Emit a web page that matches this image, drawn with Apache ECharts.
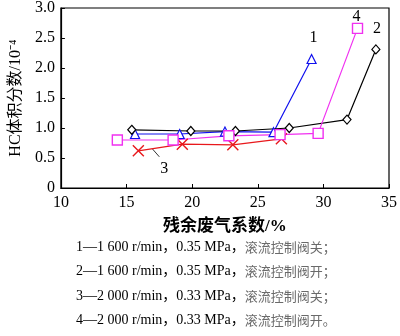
<!DOCTYPE html>
<html>
<head>
<meta charset="utf-8">
<script src="https://cdn.jsdelivr.net/npm/echarts@6/dist/echarts.min.js"></script>
<style>
  html, body { margin: 0; padding: 0; background: #fff; }
  #chart { width: 400px; height: 336px; }
</style>
</head>
<body>
<div id="chart"></div>
<script>
// Residual gas fraction (%) vs HC volume fraction (10^-4)
const xTicks = [10, 15, 20, 25, 30, 35];
const yTicks = [0, 0.5, 1.0, 1.5, 2.0, 2.5, 3.0];

const s1x = [15.65, 19.05, 22.5, 26.2, 29.1];
const s1y = [0.90, 0.90, 0.94, 0.93, 2.15];

const s2x = [15.4, 19.9, 23.3, 27.4, 31.8, 34.0];
const s2y = [0.97, 0.95, 0.95, 1.00, 1.14, 2.31];

const s3x = [15.9, 19.25, 23.1, 26.8];
const s3y = [0.62, 0.73, 0.72, 0.82];

const s4x = [14.3, 18.55, 22.8, 26.7, 29.6, 32.6];
const s4y = [0.80, 0.80, 0.87, 0.89, 0.91, 2.66];

const curveNames = ['1', '2', '3', '4'];
const legendLines = [
  ['1—1 600 r/min，0.35 MPa，', '滚流控制阀关；'],
  ['2—1 600 r/min，0.35 MPa，', '滚流控制阀开；'],
  ['3—2 000 r/min，0.33 MPa，', '滚流控制阀关；'],
  ['4—2 000 r/min，0.33 MPa，', '滚流控制阀开。']
];

const serif = '"Liberation Serif", "Times New Roman", "Noto Sans CJK SC", serif';
const pairs = (xs, ys) => xs.map((x, i) => [x, ys[i]]);

// put the curve number on the last point of a series
function withEndLabel(pts, text, dist, offset) {
  return pts.map((p, i) => i === pts.length - 1
    ? { value: p, label: { show: true, formatter: text, position: 'top', distance: dist,
        offset: offset || [0, 0], fontFamily: serif, fontSize: 16, color: '#000' } }
    : p);
}

const crossPath = 'path://M0,0L10,10M10,0L0,10';

const chart = echarts.init(document.getElementById('chart'), null, { renderer: 'canvas' });

chart.setOption({
  animation: false,
  backgroundColor: '#fff',
  grid: { left: 56, right: 7, top: 5, bottom: 148, show: true,
    borderColor: '#000', borderWidth: 1.2, backgroundColor: 'transparent' },
  xAxis: {
    type: 'value', min: 10, max: 35, interval: 5,
    name: '残余废气系数/%', nameLocation: 'middle', nameGap: 30,
    nameTextStyle: { fontFamily: serif, fontSize: 17, fontWeight: 'bold', color: '#000' },
    axisLine: { lineStyle: { color: '#000', width: 1.2 } },
    axisTick: { inside: true, length: 4, lineStyle: { color: '#000' } },
    axisLabel: { fontFamily: serif, fontSize: 16, color: '#000', margin: 7 },
    splitLine: { show: false }
  },
  yAxis: {
    type: 'value', min: 0, max: 3, interval: 0.5,
    name: 'HC体积分数/10⁻⁴', nameLocation: 'middle', nameGap: 36,
    nameTextStyle: { fontFamily: serif, fontSize: 16, color: '#000' },
    axisLine: { lineStyle: { color: '#000', width: 1.2 } },
    axisTick: { inside: true, length: 4, lineStyle: { color: '#000' } },
    axisLabel: { fontFamily: serif, fontSize: 16, color: '#000', margin: 6,
      formatter: v => v === 0 ? '0' : v.toFixed(1) },
    splitLine: { show: false }
  },
  series: [
    {
      name: curveNames[0], type: 'line', data: withEndLabel(pairs(s1x, s1y), curveNames[0], 8, [2, 0]),
      symbol: 'triangle', symbolSize: 9,
      lineStyle: { color: '#1010ee', width: 1.2 },
      itemStyle: { color: '#fff', borderColor: '#1010ee', borderWidth: 1.2 }
    },
    {
      name: curveNames[1], type: 'line', data: withEndLabel(pairs(s2x, s2y), curveNames[1], 7, [1, 0]),
      symbol: 'diamond', symbolSize: [8, 9],
      lineStyle: { color: '#000', width: 1.2 },
      itemStyle: { color: '#fff', borderColor: '#000', borderWidth: 1.2 }
    },
    {
      name: curveNames[2], type: 'line', data: pairs(s3x, s3y),
      symbol: crossPath, symbolSize: 11,
      lineStyle: { color: '#e8181c', width: 1.2 },
      itemStyle: { color: 'none', borderColor: '#e8181c', borderWidth: 1.4 }
    },
    {
      name: curveNames[3], type: 'line', data: withEndLabel(pairs(s4x, s4y), curveNames[3], 2, [-1, 4]),
      symbol: 'rect', symbolSize: 10,
      lineStyle: { color: '#f030f0', width: 1.2 },
      itemStyle: { color: '#fff', borderColor: '#f030f0', borderWidth: 1.4 }
    }
  ]
});

// leader line and number for curve 3, anchored to its first point
const p3 = chart.convertToPixel({ gridIndex: 0 }, [s3x[0], s3y[0]]);
const graphics = [
  { type: 'line', shape: { x1: p3[0] + 14, y1: p3[1] - 2, x2: p3[0] + 21, y2: p3[1] + 6 },
    style: { stroke: '#000', lineWidth: 0.8 } },
  { type: 'text', x: p3[0] + 26, y: p3[1] + 18,
    style: { text: curveNames[2], fontFamily: serif, fontSize: 16, fill: '#000',
      textAlign: 'center', textVerticalAlign: 'middle' } }
];

// condition notes below the x-axis title
legendLines.forEach((ln, i) => {
  graphics.push({
    type: 'text', left: 76, top: 240 + i * 24.5,
    style: {
      text: '{a|' + ln[0] + '}{b|' + ln[1] + '}',
      rich: {
        a: { fontFamily: serif, fontSize: 14, fill: '#000', color: '#000' },
        b: { fontFamily: '"Noto Sans CJK SC", serif', fontSize: 13, fill: '#6a6a6a', color: '#6a6a6a' }
      }
    }
  });
});

chart.setOption({ graphic: graphics });
</script>
</body>
</html>
